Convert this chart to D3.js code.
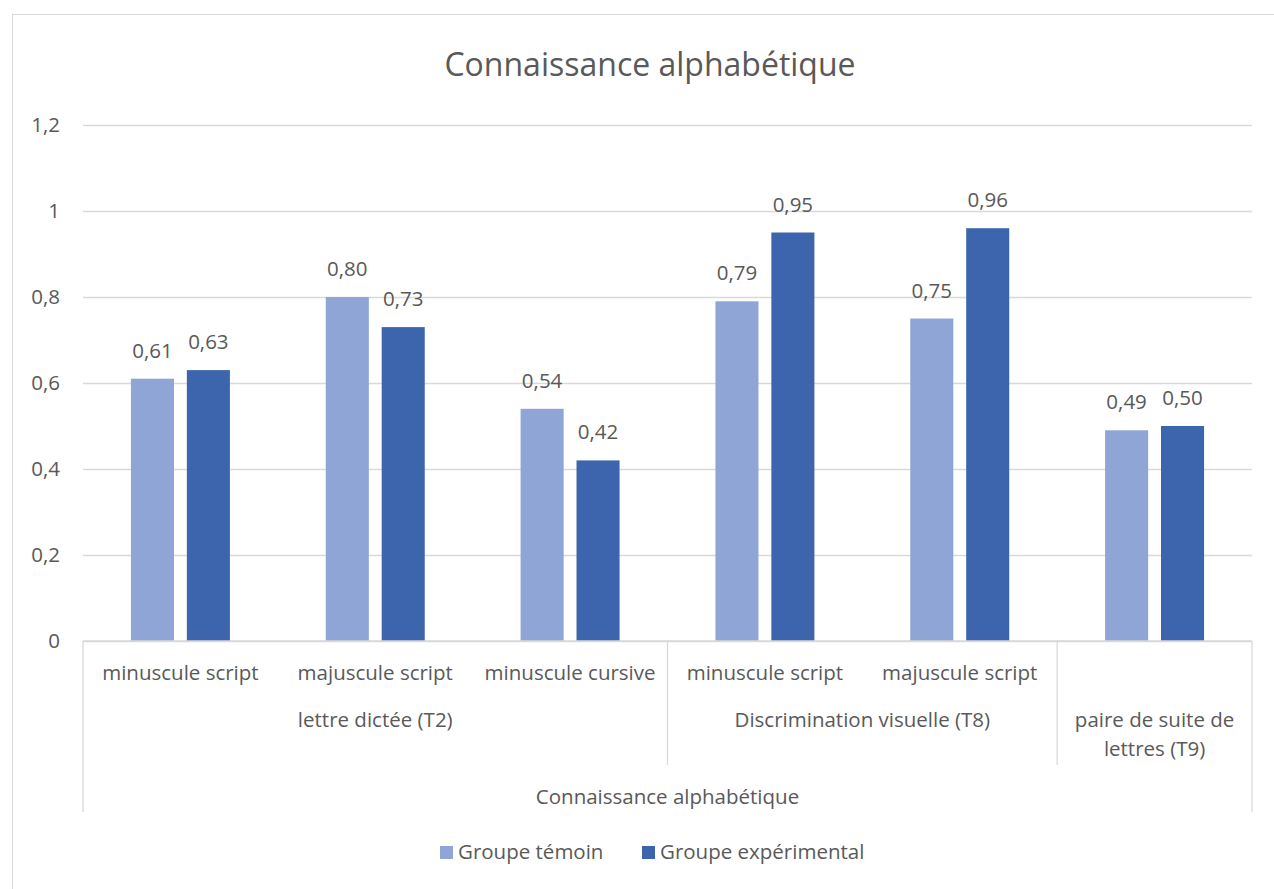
<!DOCTYPE html>
<html>
<head>
<meta charset="utf-8">
<script src="https://cdn.jsdelivr.net/npm/d3@7"></script>
<style>
  body { margin: 0; background: #fff; }
  text { font-family: "Open Sans", Lato, sans-serif; fill: #595959; }
</style>
</head>
<body>
<svg id="chart" width="1274" height="889"></svg>
<script>
// chart data
const title = "Connaissance alphabétique";
const categories = ["minuscule script", "majuscule script", "minuscule cursive",
    "minuscule script", "majuscule script", ""];
const subGroups = ["lettre dictée (T2)", "lettre dictée (T2)", "lettre dictée (T2)",
    "Discrimination visuelle (T8)", "Discrimination visuelle (T8)",
    "paire de suite de lettres (T9)"];
const topGroups = ["Connaissance alphabétique", "Connaissance alphabétique", "Connaissance alphabétique",
    "Connaissance alphabétique", "Connaissance alphabétique", "Connaissance alphabétique"];
const seriesNames = ["Groupe témoin", "Groupe expérimental"];
const temoin = [0.61, 0.80, 0.54, 0.79, 0.75, 0.49];
const experimental = [0.63, 0.73, 0.42, 0.95, 0.96, 0.50];
const yTicks = [0, 0.2, 0.4, 0.6, 0.8, 1, 1.2];

const colors = ["#8FA5D5", "#3D65AD"];
const gridColor = "#D9D9D9";
const fs = "20.5px";

const svg = d3.select("#chart");
const W = 1274, H = 889;
const plot = {left: 83, right: 1252, top: 125, bottom: 641};

// chart frame
svg.append("rect")
    .attr("x", 12.5).attr("y", 14.5)
    .attr("width", W).attr("height", H)
    .attr("fill", "none")
    .attr("stroke", gridColor);

svg.append("text")
    .attr("x", 650).attr("y", 76)
    .attr("text-anchor", "middle")
    .style("font-size", "32px")
    .text(title);

const idx = d3.range(categories.length);
const x = d3.scaleBand().domain(idx).range([plot.left, plot.right]);
const x1 = d3.scaleBand().domain(seriesNames)
    .range([x.bandwidth() * 0.246, x.bandwidth() * 0.754])
    .paddingInner(0.23);
const y = d3.scaleLinear().domain([0, 1.2]).range([plot.bottom, plot.top]);

// grid + y labels
const yAxis = svg.append("g")
    .attr("transform", "translate(" + plot.left + ",0)")
    .call(d3.axisLeft(y).tickValues(yTicks)
        .tickSize(-(plot.right - plot.left))
        .tickPadding(23)
        .tickFormat(d => String(d).replace(".", ",")));
yAxis.select(".domain").remove();
yAxis.selectAll(".tick line").attr("stroke", gridColor).attr("stroke-width", 1.3);
yAxis.selectAll(".tick text")
    .style("font-size", fs)
    .attr("fill", "#595959");

// bars
const rows = idx.map(i => ({i: i, values: [temoin[i], experimental[i]]}));
const groups = svg.append("g").selectAll("g")
    .data(rows)
    .join("g")
    .attr("transform", d => "translate(" + x(d.i) + ",0)");

groups.selectAll("rect")
    .data(d => d.values.map((v, k) => ({name: seriesNames[k], v: v, k: k})))
    .join("rect")
    .attr("x", d => x1(d.name))
    .attr("width", x1.bandwidth())
    .attr("y", d => y(d.v))
    .attr("height", d => y(0) - y(d.v))
    .attr("fill", d => colors[d.k]);

groups.selectAll("text")
    .data(d => d.values.map((v, k) => ({name: seriesNames[k], v: v})))
    .join("text")
    .attr("x", d => x1(d.name) + x1.bandwidth() / 2)
    .attr("y", d => y(d.v) - 21)
    .attr("text-anchor", "middle")
    .style("font-size", fs)
    .text(d => d3.format(".2f")(d.v).replace(".", ","));

// multi-level category axis
const axisG = svg.append("g");
axisG.append("line")
    .attr("x1", plot.left).attr("x2", plot.right)
    .attr("y1", y(0)).attr("y2", y(0))
    .attr("stroke", gridColor).attr("stroke-width", 1.3);

axisG.selectAll("text.cat")
    .data(idx)
    .join("text")
    .attr("class", "cat")
    .attr("x", i => x(i) + x.bandwidth() / 2)
    .attr("y", 680)
    .attr("text-anchor", "middle")
    .style("font-size", fs)
    .text(i => categories[i]);

function runs(labels) {
    const out = [];
    labels.forEach((l, i) => {
        if (out.length && out[out.length - 1].label === l) out[out.length - 1].end = i;
        else out.push({label: l, start: i, end: i});
    });
    return out;
}

function wrap(sel) {
    sel.each(function (d) {
        const width = (d.end - d.start + 1) * x.bandwidth() - 20;
        const t = d3.select(this);
        const words = t.text().split(" ");
        const x0 = t.attr("x");
        t.text(null);
        let line = [];
        let ts = t.append("tspan").attr("x", x0).attr("dy", 0);
        words.forEach(w => {
            line.push(w);
            ts.text(line.join(" "));
            if (ts.node().getComputedTextLength() > width && line.length > 1) {
                line.pop();
                ts.text(line.join(" "));
                line = [w];
                ts = t.append("tspan").attr("x", x0).attr("dy", 29).text(w);
            }
        });
    });
}

const lvl2 = runs(subGroups);
axisG.selectAll("text.sub")
    .data(lvl2)
    .join("text")
    .attr("class", "sub")
    .attr("x", d => (x(d.start) + x(d.end) + x.bandwidth()) / 2)
    .attr("y", 727)
    .attr("text-anchor", "middle")
    .style("font-size", fs)
    .text(d => d.label)
    .call(wrap);

const lvl3 = runs(topGroups);
axisG.selectAll("text.top")
    .data(lvl3)
    .join("text")
    .attr("class", "top")
    .attr("x", d => (x(d.start) + x(d.end) + x.bandwidth()) / 2)
    .attr("y", 804)
    .attr("text-anchor", "middle")
    .style("font-size", fs)
    .text(d => d.label);

// separators between groups
const seps = [];
lvl3.forEach(d => {
    seps.push({x: x(d.start), y2: 812});
    seps.push({x: x(d.end) + x.bandwidth(), y2: 812});
});
lvl2.forEach((d, j) => {
    if (j > 0) seps.push({x: x(d.start), y2: 765});
});
axisG.selectAll("line.sep")
    .data(seps)
    .join("line")
    .attr("class", "sep")
    .attr("x1", d => d.x).attr("x2", d => d.x)
    .attr("y1", y(0)).attr("y2", d => d.y2)
    .attr("stroke", gridColor).attr("stroke-width", 1.3);

// legend
const legend = svg.append("g");
const legendX = [440, 642];
seriesNames.forEach((name, k) => {
    legend.append("rect")
        .attr("x", legendX[k]).attr("y", 846)
        .attr("width", 13).attr("height", 13)
        .attr("fill", colors[k]);
    legend.append("text")
        .attr("x", legendX[k] + 18).attr("y", 859)
        .style("font-size", fs)
        .text(name);
});
</script>
</body>
</html>
